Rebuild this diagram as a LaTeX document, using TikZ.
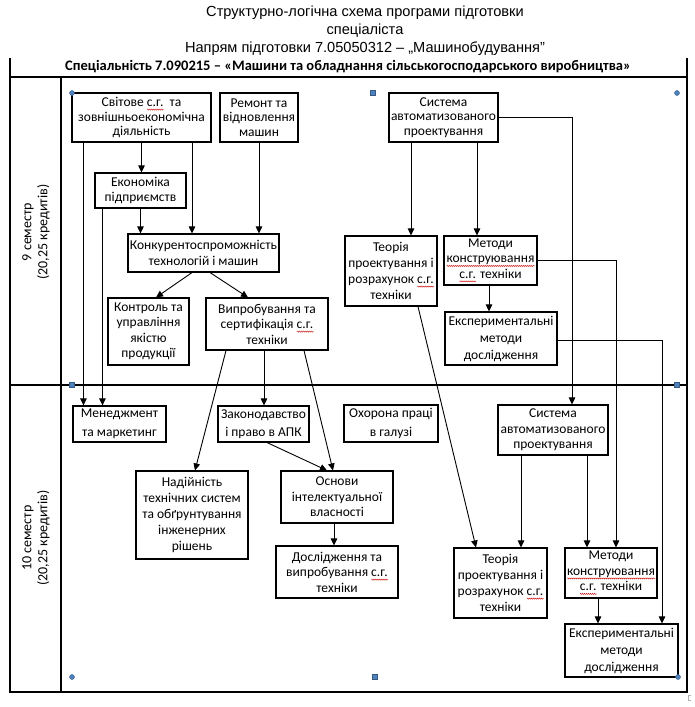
\documentclass[tikz,border=0pt]{standalone}
\usepackage{fontspec}
\setmainfont{Carlito}
\newfontfamily\arialfont{Liberation Sans}
\usetikzlibrary{arrows.meta,decorations.pathmorphing}
\definecolor{handle}{RGB}{79,129,189}
\newlength{\sgw}
\newcommand{\sg}[1]{\settowidth{\sgw}{#1}\leavevmode\rlap{\tikz[x=1pt,y=1pt,baseline=0pt]\draw[red!80!black, line width=0.4pt, decorate, decoration={zigzag, segment length=2pt, amplitude=0.6pt}] (0,-3) -- (\sgw,-3);}#1}

\begin{document}
\begin{tikzpicture}[x=1pt,y=-1pt]
    \tikzset{bx/.style={draw, line width=1.1pt, align=center, inner sep=0pt, font=\fontsize{13.5}{15.5}\selectfont},
             arr/.style={line width=0.9pt, -{Triangle[length=7pt,width=6.5pt]}},
             frame/.style={line width=1.6pt},
             sem/.style={rotate=90, align=center, font=\fontsize{14}{16}\selectfont},
             hnd/.style={fill=handle, draw=handle!70!black, line width=0.4pt}}
    \useasboundingbox (0,0) rectangle (694,707);
    % titles
    \node[font=\arialfont\fontsize{14.6}{18}\selectfont, align=center] (title) at (365,30.5) {Структурно-логічна схема програми підготовки\\спеціаліста\\Напрям підготовки 7.05050312 – „Машинобудування”};
    \node[font=\bfseries\fontsize{14.5}{16}\selectfont] (spec) at (348,67) {Спеціальність 7.090215 – «Машини та обладнання сільськогосподарського виробництва»};
    % frame
    \draw[frame] (10,58) -- (10,692) -- (687,692) -- (687,58);
    \draw[frame] (10,77) -- (687,77);
    \draw[frame] (10,385) -- (687,385);
    \draw[frame] (61,77) -- (61,692);
    \node[sem] (sem9) at (36,232) {9 семестр\\(20,25 кредитів)};
    \node[sem] (sem10) at (36,538) {10 семестр\\(20,25 кредитів)};
    % 9 semester
    \node[bx, minimum width=139pt, minimum height=49pt, font=\fontsize{13.5}{14.5}\selectfont] (svit) at (141.5,117.5) {Світове \sg{с.г.}\ \ та\\зовнішньоекономічна\\діяльність};
    \node[bx, minimum width=78pt, minimum height=49pt, font=\fontsize{13.5}{14.5}\selectfont] (remont) at (259,117.5) {Ремонт та\\відновлення\\машин};
    \node[bx, minimum width=91pt, minimum height=35pt] (ekon) at (140.5,190.5) {Економіка\\підприємств};
    \node[bx, minimum width=151pt, minimum height=38pt] (konk) at (203.5,253) {Конкурентоспроможність\\технологій і машин};
    \node[bx, minimum width=81pt, minimum height=67pt] (kontr) at (148.5,331.5) {Контроль та\\управління\\якістю\\продукції};
    \node[bx, minimum width=122pt, minimum height=52pt] (vypr) at (267,324) {Випробування та\\сертифікація \sg{с.г.}\\техніки};
    \node[bx, minimum width=109pt, minimum height=49pt, font=\fontsize{13.5}{14.5}\selectfont] (sapr1) at (443.5,117.5) {Система\\автоматизованого\\проектування};
    \node[bx, minimum width=92pt, minimum height=70pt, font=\fontsize{13.5}{16}\selectfont] (teor1) at (391,271) {Теорія\\проектування і\\розрахунок \sg{с.г.}\\техніки};
    \node[bx, minimum width=93pt, minimum height=49pt] (metod1) at (490.5,260.5) {Методи\\\sg{конструювання}\\\sg{с.г.} техніки};
    \node[bx, minimum width=112pt, minimum height=53pt, font=\fontsize{13.5}{17}\selectfont] (eksp1) at (501,338.5) {Експериментальні\\методи\\дослідження};
    % 10 semester
    \node[bx, minimum width=93pt, minimum height=36pt, font=\fontsize{13.5}{18.5}\selectfont] (menedzh) at (119.5,424) {Менеджмент\\та маркетинг};
    \node[bx, minimum width=91pt, minimum height=36pt, font=\fontsize{13.5}{18.5}\selectfont] (zakon) at (263.5,424) {Законодавство\\і право в АПК};
    \node[bx, minimum width=94pt, minimum height=37pt, font=\fontsize{13.5}{18.5}\selectfont] (okhor) at (391,423.5) {Охорона праці\\в галузі};
    \node[bx, minimum width=112pt, minimum height=88pt, font=\fontsize{13.5}{16}\selectfont] (nadiin) at (192,515) {Надійність\\технічних систем\\та обґрунтування\\інженерних\\рішень};
    \node[bx, minimum width=112pt, minimum height=52pt] (osnov) at (337,497) {Основи\\інтелектуальної\\власності};
    \node[bx, minimum width=122pt, minimum height=52pt] (doslid) at (337,572) {Дослідження та\\випробування \sg{с.г.}\\техніки};
    \node[bx, minimum width=110pt, minimum height=50pt] (sapr2) at (553,430) {Система\\автоматизованого\\проектування};
    \node[bx, minimum width=93pt, minimum height=70pt, font=\fontsize{13.5}{16}\selectfont] (teor2) at (500.5,583) {Теорія\\проектування і\\розрахунок \sg{с.г.}\\техніки};
    \node[bx, minimum width=92pt, minimum height=50pt] (metod2) at (611,573) {Методи\\\sg{конструювання}\\\sg{с.г.} техніки};
    \node[bx, minimum width=113pt, minimum height=53pt, font=\fontsize{13.5}{17}\selectfont] (eksp2) at (621.5,650.5) {Експериментальні\\методи\\дослідження};
    % links
    \draw[arr] (svit.south) -- (svit.south |- ekon.north);
    \draw[arr] ([xshift=50.5pt]svit.south) coordinate (s1) -- (s1 |- konk.north);
    \draw[arr] (ekon.south) -- (ekon.south |- konk.north);
    \draw[arr] (remont.south) -- (remont.south |- konk.north);
    \draw[arr] ([xshift=-11.5pt]konk.south) -- ([xshift=7.5pt]kontr.north);
    \draw[arr] ([xshift=6.5pt]konk.south) -- ([xshift=-19pt]vypr.north);
    \draw[arr] ([xshift=12pt]svit.south west) coordinate (s2) -- (s2 |- menedzh.north);
    \draw[arr] ([xshift=8pt]ekon.south west) coordinate (s3) -- (s3 |- menedzh.north);
    \draw[arr] ([xshift=-41pt]vypr.south) -- ([xshift=3pt]nadiin.north);
    \draw[arr] ([xshift=-3pt]vypr.south) coordinate (s4) -- (s4 |- zakon.north);
    \draw[arr] ([xshift=37pt]vypr.south) -- ([xshift=-4pt]osnov.north);
    \draw[arr] ([xshift=3.5pt]zakon.south) -- ([xshift=-10pt]osnov.north);
    \draw[arr] ([xshift=-3pt]osnov.south) coordinate (s5) -- (s5 |- doslid.north);
    \draw[arr] ([xshift=-32.5pt]sapr1.south) coordinate (s6) -- (s6 |- teor1.north);
    \draw[arr] ([xshift=33.5pt]sapr1.south) coordinate (s7) -- (s7 |- metod1.north);
    \draw[arr] ([xshift=-1.5pt]metod1.south) coordinate (s8) -- (s8 |- eksp1.north);
    \draw[arr] (sapr1.east) -| ([xshift=19pt]sapr2.north);
    \draw[arr] (metod1.east) -| ([xshift=5pt]metod2.north);
    \draw[arr] ([yshift=-2pt]eksp1.east) -| ([xshift=40.5pt]eksp2.north);
    \draw[arr] ([xshift=27pt]teor1.south) -- ([xshift=-24.5pt]teor2.north);
    \draw[arr] ([xshift=-32pt]sapr2.south) coordinate (s9) -- (s9 |- teor2.north);
    \draw[arr] ([xshift=34pt]sapr2.south) coordinate (s10) -- (s10 |- metod2.north);
    \draw[arr] ([xshift=-13pt]metod2.south) coordinate (s11) -- (s11 |- eksp2.north);
    % selection handles
    \foreach \hx/\hy in {72/93, 677/93, 72/677, 678/677}
        \filldraw[hnd] (\hx,\hy) circle (2.5pt);
    \foreach \hx/\hy in {373/93, 72/385, 677/385, 375/677}
        \filldraw[hnd] (\hx-2.5,\hy-2.5) rectangle +(5,5);
    \draw[gray!60, line width=0.5pt] (691,695) -- (688,695) -- (688,700) -- (691,700);
\end{tikzpicture}
\end{document}
